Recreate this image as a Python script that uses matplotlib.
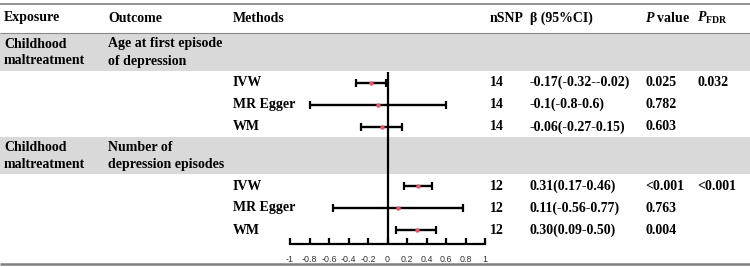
import matplotlib
matplotlib.use("Agg")
import matplotlib.pyplot as plt

plt.rcParams['font.family'] = ['Liberation Serif', 'DejaVu Serif']
plt.rcParams['mathtext.fontset'] = 'custom'
plt.rcParams['mathtext.rm'] = 'Liberation Serif:bold'
plt.rcParams['mathtext.it'] = 'Liberation Serif:italic:bold'
plt.rcParams['mathtext.bf'] = 'Liberation Serif:bold'

# ---- data ----
exposures = ["Childhood\nmaltreatment", "Childhood\nmaltreatment"]
outcomes = ["Age at first episode\nof depression", "Number of\ndepression episodes"]
methods = ["IVW", "MR Egger", "WM", "IVW", "MR Egger", "WM"]
nsnp = [14, 14, 14, 12, 12, 12]
beta = [-0.17, -0.1, -0.06, 0.31, 0.11, 0.30]
ci_low = [-0.32, -0.8, -0.27, 0.17, -0.56, 0.09]
ci_high = [-0.02, 0.6, 0.15, 0.46, 0.77, 0.50]
beta_text = ["-0.17(-0.32--0.02)", "-0.1(-0.8-0.6)", "-0.06(-0.27-0.15)",
             "0.31(0.17-0.46)", "0.11(-0.56-0.77)", "0.30(0.09-0.50)"]
p_text = ["0.025", "0.782", "0.603", "<0.001", "0.763", "0.004"]
pfdr_text = ["0.032", "", "", "<0.001", "", ""]
xticks = [-1, -0.8, -0.6, -0.4, -0.2, 0, 0.2, 0.4, 0.6, 0.8, 1]
xticklabels = ["-1", "-0.8", "-0.6", "-0.4", "-0.2", "0", "0.2", "0.4", "0.6", "0.8", "1"]

# ---- layout (pixels) ----
W, H = 750, 267
row_y = [82.5, 104.5, 127, 186, 208, 230]
band_spans = [(33, 71), (137, 174)]
col_x = dict(exp=4, out=108, meth=233, nsnp=490, beta=530, p=645, pfdr=697)
fs = 10

fig = plt.figure(figsize=(W / 100, H / 100), dpi=100)
ax = fig.add_axes([0, 0, 1, 1])
ax.set_xlim(0, W)
ax.set_ylim(H, 0)
ax.axis('off')

# lines and bands
ax.plot([0, W], [3.5, 3.5], color='#7f7f7f', lw=1.2, solid_capstyle='butt')
ax.plot([0, W], [264, 264], color='#7f7f7f', lw=1.8, solid_capstyle='butt')
for (y0, y1) in band_spans:
    ax.axhspan(y0, y1, color='#d9d9d9', lw=0, zorder=0)
ax.plot([0, W], [33, 33], color='#8c8c8c', lw=0.8, solid_capstyle='butt')

# header
hy = 18
tk = dict(fontsize=fs, fontweight='bold', va='center', ha='left')
ax.text(col_x['exp'], hy, "Exposure", **tk)
ax.text(col_x['out'], hy, "Outcome", **tk)
ax.text(col_x['meth'], hy, "Methods", **tk)
ax.text(col_x['nsnp'], hy, "nSNP", **tk)
ax.text(col_x['beta'], hy, "β (95%CI)", **tk)
ax.text(col_x['p'], hy, r"$P$ value", **tk)
ax.text(col_x['pfdr'], hy, r"$P_{\mathrm{FDR}}$", **tk)

# group rows
for (y0, y1), e, o in zip(band_spans, exposures, outcomes):
    ax.text(col_x['exp'], (y0 + y1) / 2 + 0.5, e, linespacing=1.4, **tk)
    ax.text(col_x['out'], (y0 + y1) / 2 + 0.5, o, linespacing=1.4, **tk)

for i, y in enumerate(row_y):
    ax.text(col_x['meth'], y, methods[i], **tk)
    ax.text(col_x['nsnp'], y, str(nsnp[i]), **tk)
    ax.text(col_x['beta'], y, beta_text[i], **tk)
    ax.text(col_x['p'], y, p_text[i], **tk)
    if pfdr_text[i]:
        ax.text(col_x['pfdr'], y, pfdr_text[i], **tk)

# forest axes
fx0, fx1 = 290, 485
fy_top, fy_bot = 72, 244
fa = fig.add_axes([fx0 / W, (H - fy_bot) / H, (fx1 - fx0) / W, (fy_bot - fy_top) / H])
fa.patch.set_alpha(0)
fa.set_xlim(-1, 1)
fa.set_ylim(fy_bot, fy_top)
for s in ['top', 'left', 'right']:
    fa.spines[s].set_visible(False)
fa.spines['bottom'].set_linewidth(1.6)
fa.set_yticks([])
fa.set_xticks(xticks)
fa.set_xticklabels(xticklabels, fontfamily='Liberation Sans', fontsize=6.4, color='#333333')
fa.tick_params(axis='x', direction='in', length=4, width=1.6, pad=8)
fa.axvline(0, color='black', lw=1.6, zorder=1)

xerr = [[b - l for b, l in zip(beta, ci_low)], [h - b for b, h in zip(beta, ci_high)]]
fa.errorbar(beta, row_y, xerr=xerr, fmt='none', ecolor='black', elinewidth=1.7,
            capsize=3.2, capthick=1.6, zorder=2)
fa.plot(beta, row_y, 'o', color='#e8576a', ms=3.2, mew=0, zorder=3)

fig.savefig("out.png", dpi=100)
